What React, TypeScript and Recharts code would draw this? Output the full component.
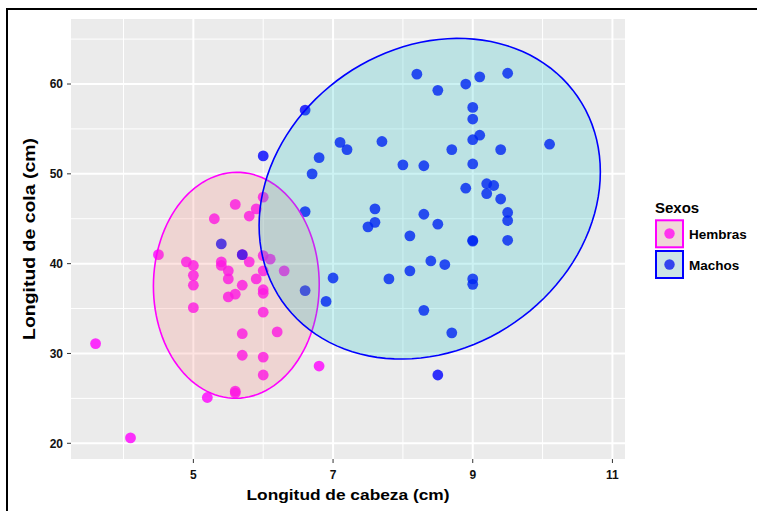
import React from 'react';
import { ScatterChart, Scatter, XAxis, YAxis, CartesianGrid } from 'recharts';

// Longitud de cabeza (cm) / Longitud de cola (cm)
const hembrasCabeza = [3.6, 4.1, 4.5, 4.9, 5.0, 5.0, 5.0, 5.0, 5.2, 5.3, 5.4, 5.4, 5.5, 5.5, 5.5, 5.6, 5.6, 5.6, 5.6, 5.7, 5.7, 5.7, 5.7, 5.8, 5.8, 5.9, 5.9, 6.0, 6.0, 6.0, 6.0, 6.0, 6.0, 6.0, 6.0, 6.1, 6.2, 6.3, 6.8];
const hembrasCola = [31.1, 20.6, 41.0, 40.2, 39.8, 38.7, 37.6, 35.1, 25.1, 45.0, 40.2, 39.8, 39.2, 38.3, 36.3, 46.6, 36.6, 25.6, 25.8, 41.0, 37.6, 32.2, 29.8, 45.3, 40.2, 46.1, 38.3, 47.4, 40.9, 39.2, 37.1, 36.7, 34.6, 29.6, 27.6, 40.5, 32.4, 39.2, 28.6];

const machosCabeza = [5.4, 5.7, 6.0, 6.6, 6.6, 6.6, 6.7, 6.8, 6.9, 7.0, 7.1, 7.2, 7.5, 7.6, 7.6, 7.7, 7.8, 8.0, 8.1, 8.1, 8.2, 8.3, 8.3, 8.3, 8.4, 8.5, 8.5, 8.5, 8.6, 8.7, 8.7, 8.9, 8.9, 9.0, 9.0, 9.0, 9.0, 9.0, 9.0, 9.0, 9.0, 9.1, 9.1, 9.2, 9.2, 9.3, 9.4, 9.4, 9.5, 9.5, 9.5, 9.5, 10.1];
const machosCola = [42.2, 41.0, 52.0, 57.1, 45.8, 37.0, 50.0, 51.8, 35.8, 38.4, 53.5, 52.7, 44.1, 46.1, 44.6, 53.6, 38.3, 51.0, 43.1, 39.2, 61.1, 50.9, 45.5, 34.8, 40.3, 59.3, 44.4, 27.6, 39.9, 52.7, 32.3, 60.0, 48.4, 57.4, 56.1, 53.8, 51.1, 42.6, 42.5, 38.3, 37.7, 60.8, 54.3, 48.9, 47.8, 48.7, 52.7, 47.2, 61.2, 45.7, 44.8, 42.6, 53.3];

// ellipse parameters in data units (center, cos/sin components)
const elipseHembras = { cx: 5.615, cy: 37.59, ax: 1.187, bx: 0, ay: 0.1, by: 12.58 };
const elipseMachos = { cx: 8.384, cy: 47.23, ax: 2.443, bx: 0, ay: 2.985, by: 17.6 };

const xTicks = [5, 7, 9, 11];
const xMinor = [4, 6, 8, 10];
const yTicks = [20, 30, 40, 50, 60];
const yMinor = [25, 35, 45, 55, 65];
const xDomain = [3.248, 11.18];
const yDomain = [18.25, 67.24];

const zip = (xs: number[], ys: number[]) => xs.map((x, i) => ({ x, y: ys[i] }));
const hembras = zip(hembrasCabeza, hembrasCola);
const machos = zip(machosCabeza, machosCola);

const ellipsePoints = (e: { cx: number; cy: number; ax: number; bx: number; ay: number; by: number }) => {
  const pts: { x: number; y: number }[] = [];
  for (let i = 0; i <= 120; i++) {
    const t = (i / 120) * Math.PI * 2;
    pts.push({ x: e.cx + e.ax * Math.cos(t) + e.bx * Math.sin(t), y: e.cy + e.ay * Math.cos(t) + e.by * Math.sin(t) });
  }
  return pts;
};

const FONT = '"Liberation Sans", Arial, Helvetica, sans-serif';

const dot = (color: string) => (p: any) => (
  <circle cx={p.cx} cy={p.cy} r={5.4} fill={color} fillOpacity={0.8} />
);
const noShape = () => <g />;

export default function App() {
  return (
    <div style={{ position: 'absolute', left: 0, top: 0, width: 757, height: 511, background: '#fff', fontFamily: FONT }}>
      <div style={{ position: 'absolute', left: 6, top: 8, width: 751, height: 503, borderTop: '2px solid #000', borderLeft: '2px solid #000', boxSizing: 'border-box' }} />
      <div style={{ position: 'absolute', left: 0, top: 0 }}>
        <ScatterChart width={757} height={511} margin={{ top: 19, right: 132, bottom: 0, left: 0 }}>
          <CartesianGrid fill="#EBEBEB" stroke="#FFFFFF" strokeWidth={1} verticalValues={xMinor} horizontalValues={yMinor} strokeDasharray="" />
          <CartesianGrid stroke="#FFFFFF" strokeWidth={2} verticalValues={xTicks} horizontalValues={yTicks} strokeDasharray="" />
          <XAxis
            type="number"
            dataKey="x"
            domain={xDomain}
            ticks={xTicks}
            allowDataOverflow
            axisLine={false}
            tickLine={{ stroke: '#333', strokeWidth: 1 }}
            tickSize={4}
            tickMargin={7}
            height={52}
            tick={{ fill: '#111', fontSize: 12, fontWeight: 700, fontFamily: FONT }}
            label={{
              content: () => (
                <text x={348} y={500} textAnchor="middle" fontSize={15.5} fontWeight={700} fontFamily={FONT} fill="#000" textLength={203} lengthAdjust="spacingAndGlyphs">
                  Longitud de cabeza (cm)
                </text>
              ),
            }}
          />
          <YAxis
            type="number"
            dataKey="y"
            domain={yDomain}
            ticks={yTicks}
            allowDataOverflow
            axisLine={false}
            tickLine={{ stroke: '#333', strokeWidth: 1 }}
            tickSize={4}
            tickMargin={4}
            width={71}
            tick={{ fill: '#111', fontSize: 12, fontWeight: 700, fontFamily: FONT }}
            label={{
              content: () => (
                <text x={35} y={239} transform="rotate(-90, 35, 239)" textAnchor="middle" fontSize={16} fontWeight={700} fontFamily={FONT} fill="#000" textLength={202} lengthAdjust="spacingAndGlyphs">
                  Longitud de cola (cm)
                </text>
              ),
            }}
          />
          <Scatter name="Hembras" data={hembras} shape={dot('#FF00FF')} isAnimationActive={false} />
          <Scatter name="Machos" data={machos} shape={dot('#0000FF')} isAnimationActive={false} />
          <Scatter
            data={ellipsePoints(elipseHembras)}
            shape={noShape}
            line={{ stroke: '#FF00FF', strokeWidth: 1.6, fill: '#F8766D', fillOpacity: 0.2 }}
            lineType="joint"
            lineJointType="linear"
            isAnimationActive={false}
          />
          <Scatter
            data={ellipsePoints(elipseMachos)}
            shape={noShape}
            line={{ stroke: '#0000FF', strokeWidth: 1.6, fill: '#00BFC4', fillOpacity: 0.2 }}
            lineType="joint"
            lineJointType="linear"
            isAnimationActive={false}
          />
        </ScatterChart>
      </div>
      <svg style={{ position: 'absolute', left: 640, top: 190 }} width={117} height={100}>
        <text x={15} y={23.3} fontSize={15} fontWeight={700} fontFamily={FONT} fill="#000">Sexos</text>
        <rect x={16} y={30.3} width={27} height={27} fill="#EFD6D8" stroke="#FF00FF" strokeWidth={2} />
        <circle cx={29.5} cy={43.5} r={5.2} fill="#FF33EE" />
        <text x={49} y={49} fontSize={13.5} fontWeight={700} fontFamily={FONT} fill="#000">Hembras</text>
        <rect x={16} y={61} width={27} height={27} fill="#CCE4E6" stroke="#0000FF" strokeWidth={2} />
        <circle cx={29.5} cy={74.5} r={5.2} fill="#3344EE" />
        <text x={49} y={80} fontSize={13.5} fontWeight={700} fontFamily={FONT} fill="#000">Machos</text>
      </svg>
    </div>
  );
}
